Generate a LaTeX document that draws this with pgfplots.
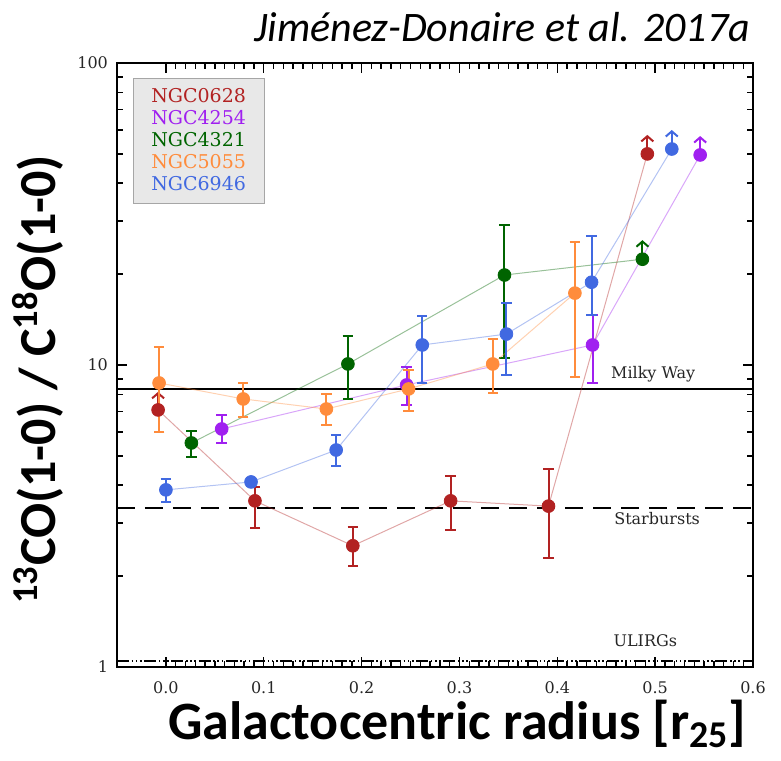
\documentclass[border=0pt]{standalone}
\usepackage{pgfplots}
\pgfplotsset{compat=1.18}
\usepackage{pgfplotstable}
\usepackage{fontspec}
\setmainfont{DejaVu Serif}
\newfontfamily\calfont{Carlito}
\usetikzlibrary{arrows.meta}

\definecolor{cA}{RGB}{178,34,34}   % NGC0628
\definecolor{cB}{RGB}{160,32,240}  % NGC4254
\definecolor{cC}{RGB}{0,100,0}     % NGC4321
\definecolor{cD}{RGB}{255,140,60}  % NGC5055
\definecolor{cE}{RGB}{65,105,225}  % NGC6946

% columns: radius, ratio, error plus, error minus, lower limit flag
% (for lower limits, ep is the length of the arrow)
\pgfplotstableread{
x      y      ep    em    lim
-0.008 7.10   1.05  0     1
0.091  3.55   0.39  0.66  0
0.191  2.52   0.39  0.36  0
0.291  3.55   0.74  0.71  0
0.391  3.41   1.11  1.11  0
0.492  50.0   7.8   0     1
}\tabA
\pgfplotstableread{
x      y      ep    em    lim
0.057  6.14   0.69  0.62  0
0.246  8.59   1.26  1.22  0
0.436  11.65  2.99  2.93  0
0.546  49.6   7.7   0     1
}\tabB
\pgfplotstableread{
x      y      ep    em    lim
0.026  5.52   0.53  0.56  0
0.186  10.08  2.39  2.36  0
0.346  19.86  9.2   9.3   0
0.487  22.4   3.5   0     1
}\tabC
\pgfplotstableread{
x      y      ep    em    lim
-0.007 8.72   2.75  2.72  0
0.079  7.72   1.00  0.99  0
0.164  7.15   0.87  0.82  0
0.248  8.33   1.30  1.29  0
0.334  10.08  2.12  2.00  0
0.418  17.3   8.2   8.2   0
}\tabD
\pgfplotstableread{
x      y      ep    em    lim
0.000  3.86   0.33  0.34  0
0.087  4.10   0.10  0.10  0
0.174  5.23   0.64  0.60  0
0.262  11.65  2.88  2.93  0
0.348  12.66  3.40  3.40  0
0.435  18.8   7.9   4.2   0
0.517  51.9   8.1   0     1
}\tabE

\pgfplotsset{
  galaxy line/.style={line width=0.5pt, draw=#1, opacity=0.4, no marks, forget plot},
  galaxy pts/.style={only marks, mark=*, mark size=3.2pt,
    mark options={draw=#1, fill=#1}, forget plot,
    error bars/.cd, y dir=both, y explicit,
    error bar style={line width=1pt, draw=#1},
    error mark options={rotate=90, line width=1pt, draw=#1, mark size=2.6pt}},
  galaxy lim/.style={only marks, mark=*, mark size=3.2pt,
    mark options={draw=#1, fill=#1}, forget plot,
    error bars/.cd, y dir=plus, y explicit,
    error bar style={line width=1pt, draw=#1, -{Straight Barb[length=2.6pt,width=6pt,line width=1pt]}},
    error mark=none},
}

\newcommand{\galaxy}[2]{%
  \addplot[galaxy line=#2] table[x=x,y=y] {#1};
  \addplot[restrict expr to domain={\thisrow{lim}}{0:0}, galaxy pts=#2]
    table[x=x,y=y,y error plus=ep,y error minus=em] {#1};
  \addplot[restrict expr to domain={\thisrow{lim}}{1:1}, galaxy lim=#2]
    table[x=x,y=y,y error plus=ep,y error minus=em] {#1};
}

\begin{document}
\begin{tikzpicture}
\useasboundingbox (-58.5pt,-46.5pt) rectangle (332pt,333.5pt);
\begin{axis}[
  scale only axis, width=318pt, height=302pt,
  at={(0,0)}, anchor=south west,
  xmin=-0.05, xmax=0.6, ymode=log, ymin=1, ymax=100,
  xtick={0,0.1,0.2,0.3,0.4,0.5,0.6},
  xticklabels={0.0,0.1,0.2,0.3,0.4,0.5,0.6},
  minor x tick num=9,
  ytick={1,10,100}, yticklabels={1,10,100},
  tick align=inside,
  major tick length=5pt, minor tick length=2.8pt,
  every tick/.style={black, line width=0.7pt},
  axis line style={line width=1.2pt},
  tick label style={font=\fontsize{8}{9}\selectfont, text=black!85},
  xticklabel style={yshift=-4pt},
  yticklabel style={xshift=-1pt},
  xlabel={Galactocentric radius [r\textsubscript{25}]},
  xlabel style={font=\calfont\bfseries\fontsize{27}{29}\selectfont,
    at={(axis description cs:0.535,-0.094)}, anchor=center},
  ylabel={\textsuperscript{13}CO(1-0) / C\textsuperscript{18}O(1-0)},
  ylabel style={font=\calfont\bfseries\fontsize{26}{28}\selectfont,
    at={(axis description cs:-0.124,0.476)}, anchor=center},
  legend style={at={(axis description cs:0.025,0.975)}, anchor=north west,
    fill=black!9, draw=black!35, font=\fontsize{9.5}{10}\selectfont,
    row sep=-1.6pt, inner xsep=7pt, inner ysep=3pt},
  legend cell align=left,
]
% reference ratios
\addplot[black, line width=1.2pt, forget plot] coordinates {(-0.05,8.33) (0.6,8.33)};
\addplot[black, line width=1.3pt, dash pattern=on 9pt off 5pt, forget plot]
  coordinates {(-0.05,3.36) (0.6,3.36)};
\addplot[black, line width=1.2pt,
  dash pattern=on 6pt off 1.3pt on 0.8pt off 1.3pt on 0.8pt off 1.3pt on 0.8pt off 1.3pt,
  forget plot] coordinates {(-0.05,1.047) (0.6,1.047)};
\node[font=\fontsize{8}{9}\selectfont, text=black!85] at (axis cs:0.498,9.34) {Milky Way};
\node[font=\fontsize{8}{9}\selectfont, text=black!85] at (axis cs:0.502,3.11) {Starbursts};
\node[font=\fontsize{8}{9}\selectfont, text=black!85] at (axis cs:0.49,1.22) {ULIRGs};

\galaxy{\tabA}{cA}
\galaxy{\tabB}{cB}
\galaxy{\tabC}{cC}
\galaxy{\tabD}{cD}
\galaxy{\tabE}{cE}

\addlegendimage{empty legend}\addlegendentry{\textcolor{cA}{NGC0628}}
\addlegendimage{empty legend}\addlegendentry{\textcolor{cB}{NGC4254}}
\addlegendimage{empty legend}\addlegendentry{\textcolor{cC}{NGC4321}}
\addlegendimage{empty legend}\addlegendentry{\textcolor{cD}{NGC5055}}
\addlegendimage{empty legend}\addlegendentry{\textcolor{cE}{NGC6946}}
\end{axis}
\node[anchor=base east, font=\calfont\itshape\fontsize{21}{24}\selectfont]
  at (320pt,312.5pt) {Jiménez-Donaire et al. 2017a};
\end{tikzpicture}
\end{document}
